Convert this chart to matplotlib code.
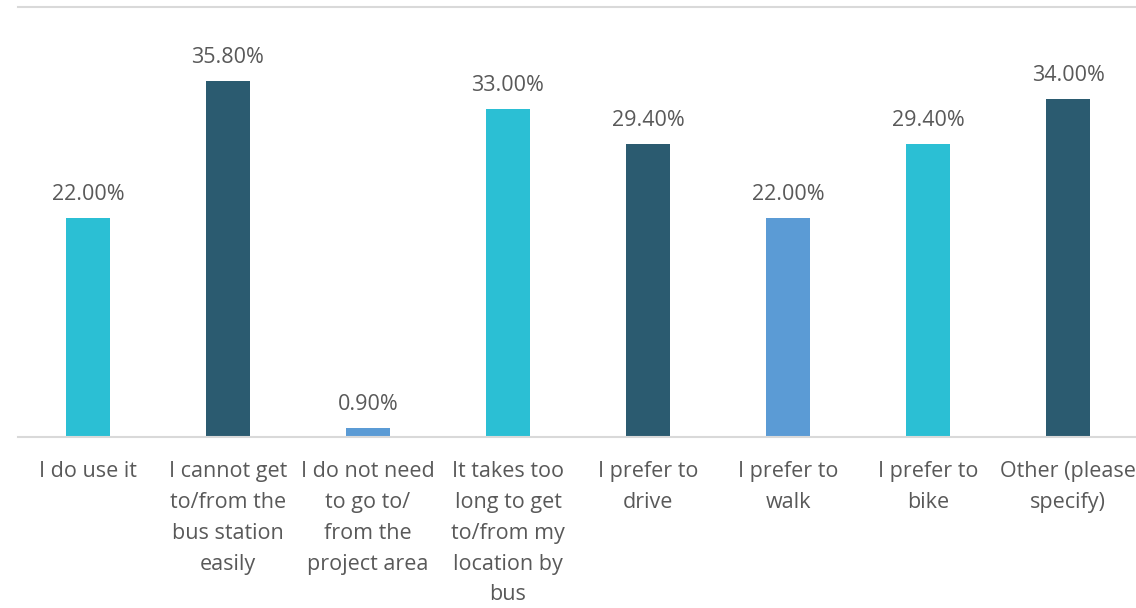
import matplotlib.pyplot as plt
import numpy as np

# Data
categories = [
    "I do use it",
    "I cannot get\nto/from the\nbus station\neasily",
    "I do not need\nto go to/\nfrom the\nproject area",
    "It takes too\nlong to get\nto/from my\nlocation by\nbus",
    "I prefer to\ndrive",
    "I prefer to\nwalk",
    "I prefer to\nbike",
    "Other (please\nspecify)",
]
values = [22.0, 35.8, 0.9, 33.0, 29.4, 22.0, 29.4, 34.0]
bar_colors = ["#2BBFD4", "#2B5B70", "#5B9BD5", "#2BBFD4",
              "#2B5B70", "#5B9BD5", "#2BBFD4", "#2B5B70"]

plt.rcParams['font.family'] = ['Open Sans', 'DejaVu Sans']
text_color = "#595959"

fig = plt.figure(figsize=(11.36, 6.08), dpi=100)
ax = fig.add_axes([0.0158, 0.281, 0.986, 0.7075])

x = np.arange(len(categories))
ax.bar(x, values, width=0.32, color=bar_colors, zorder=2)

for xi, v in zip(x, values):
    ax.text(xi, v + 1.3, f"{v:.2f}%", ha='center', va='bottom',
            fontsize=15.5, color=text_color)

ax.set_xlim(-0.5, len(categories) - 0.5)
ax.set_ylim(0, 43.2)
ax.set_yticks([])
ax.set_xticks(x)
ax.set_xticklabels(categories, fontsize=15.5, color=text_color, linespacing=1.62)
ax.tick_params(axis='x', length=0, pad=17)

for side in ['left', 'right']:
    ax.spines[side].set_visible(False)
ax.spines['bottom'].set_color('#D9D9D9')
ax.spines['bottom'].set_linewidth(1.5)
ax.spines['top'].set_color('#D9D9D9')
ax.spines['top'].set_linewidth(1.5)

plt.savefig("out.png", dpi=100)
